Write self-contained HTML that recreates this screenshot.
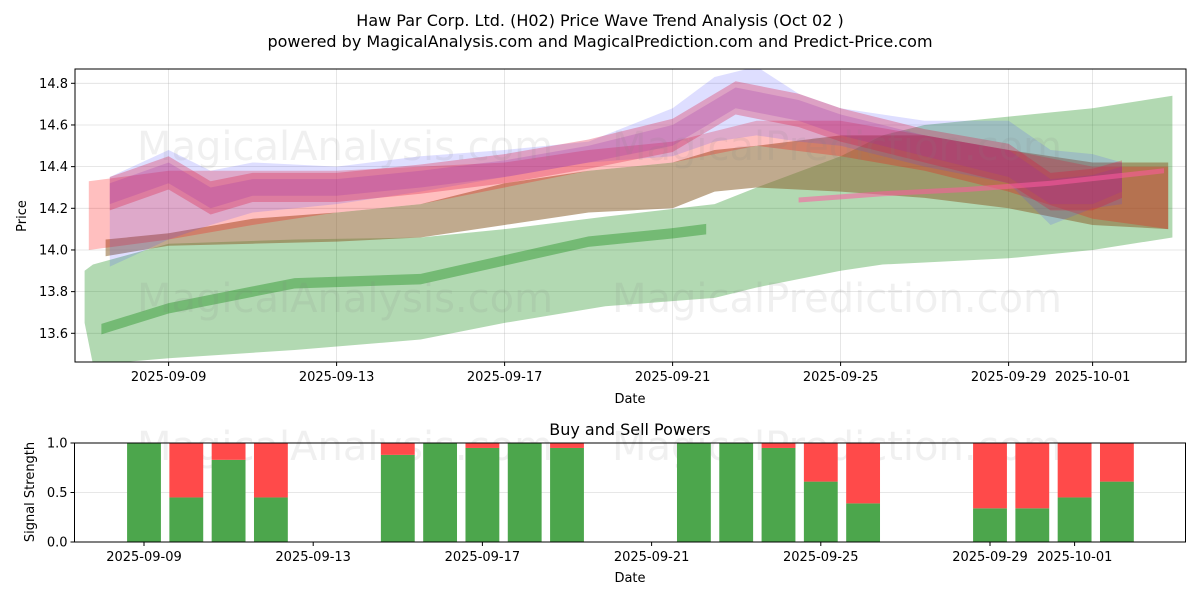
<!DOCTYPE html>
<html><head><meta charset="utf-8">
<style>
html,body{margin:0;padding:0;background:#fff;}
svg{display:block;font-family:"DejaVu Sans","Liberation Sans",sans-serif;}
</style></head>
<body>
<svg id="chart" width="1200" height="600" xmlns="http://www.w3.org/2000/svg">
<rect width="1200" height="600" fill="#fff"/>
<text x="600" y="26" text-anchor="middle" font-size="16">Haw Par Corp. Ltd. (H02) Price Wave Trend Analysis (Oct 02 )</text>
<text x="600" y="47" text-anchor="middle" font-size="16">powered by MagicalAnalysis.com and MagicalPrediction.com and Predict-Price.com</text>
<g id="topPanel"></g>
<g id="botPanel"></g>
</svg>
<script>
// ---- price chart data (days relative to 2025-09-09) ----
const priceTicks = [13.6, 13.8, 14.0, 14.2, 14.4, 14.6, 14.8];
const dateTickLabels = ["2025-09-09","2025-09-13","2025-09-17","2025-09-21","2025-09-25","2025-09-29","2025-10-01"];
const dateTickDays = [0, 4, 8, 12, 16, 20, 22];

const greenDays  = [-2, -1.8, 0, 3, 6, 8, 10.4, 13, 14, 16, 17, 18, 20, 22, 23.9];
const greenUpper = [13.90, 13.93, 14.03, 14.05, 14.06, 14.10, 14.16, 14.22, 14.30, 14.45, 14.55, 14.60, 14.64, 14.68, 14.74];
const greenLower = [13.65, 13.45, 13.48, 13.52, 13.57, 13.65, 13.73, 13.77, 13.82, 13.90, 13.93, 13.94, 13.96, 14.00, 14.06];

const dgDays  = [-1.6, 0, 2, 3, 6, 8, 10, 12, 12.8];
const dgMid   = [13.62, 13.72, 13.80, 13.84, 13.86, 13.95, 14.04, 14.08, 14.10];

const brownDays  = [-1.5, 0, 2, 4, 6, 8, 10, 12, 13, 14, 16, 18, 20, 22, 23.8];
const brownUpper = [14.05, 14.08, 14.15, 14.18, 14.22, 14.32, 14.38, 14.42, 14.48, 14.50, 14.55, 14.55, 14.48, 14.42, 14.42];
const brownLower = [13.97, 14.02, 14.03, 14.04, 14.06, 14.12, 14.18, 14.20, 14.28, 14.30, 14.28, 14.25, 14.20, 14.12, 14.10];

const redDays  = [-1.9, 0, 2, 4, 6, 8, 10, 12, 14, 16, 18, 20, 22, 23.8];
const redUpper = [14.33, 14.38, 14.38, 14.38, 14.40, 14.42, 14.48, 14.52, 14.62, 14.62, 14.55, 14.48, 14.40, 14.40];
const redLower = [14.00, 14.05, 14.12, 14.18, 14.22, 14.30, 14.38, 14.42, 14.50, 14.45, 14.38, 14.28, 14.15, 14.10];

const blueDays  = [-1.4, 0, 1, 2, 4, 6, 8, 10, 12, 13, 14, 15, 16, 18, 20, 21, 22, 22.7];
const blueUpper = [14.35, 14.48, 14.38, 14.42, 14.40, 14.45, 14.48, 14.52, 14.68, 14.83, 14.88, 14.75, 14.68, 14.62, 14.62, 14.48, 14.46, 14.42];
const blueLower = [13.92, 14.05, 14.12, 14.18, 14.22, 14.28, 14.35, 14.42, 14.45, 14.52, 14.55, 14.52, 14.50, 14.40, 14.32, 14.12, 14.20, 14.22];

const coreDays  = [-1.4, 0, 1, 2, 4, 6, 8, 10, 12, 13.5, 15, 16, 18, 20, 21, 22, 22.7];
const coreUpper = [14.32, 14.42, 14.30, 14.34, 14.34, 14.38, 14.43, 14.50, 14.60, 14.78, 14.72, 14.65, 14.55, 14.48, 14.34, 14.36, 14.40];
const coreLower = [14.22, 14.32, 14.20, 14.26, 14.26, 14.30, 14.35, 14.42, 14.50, 14.68, 14.62, 14.55, 14.45, 14.35, 14.22, 14.22, 14.28];

const pinkDays = [15, 17, 19, 21, 23.7];
const pinkMid  = [14.24, 14.27, 14.29, 14.32, 14.38];

// ---- signal data ----
const barDays  = [0,1,2,3, 6,7,8,9,10, 13,14,15,16,17, 20,21,22,23];
const buyPower = [1.0,0.45,0.83,0.45, 0.88,1.0,0.95,1.0,0.95, 1.0,1.0,0.95,0.61,0.39, 0.34,0.34,0.45,0.61];
const sigTicks = [0.0, 0.5, 1.0];
const sigTickLabels = ["0.0","0.5","1.0"];

const NS = "http://www.w3.org/2000/svg";
function mk(tag, attrs, parent){const e=document.createElementNS(NS,tag);for(const k in attrs)e.setAttribute(k,attrs[k]);parent.appendChild(e);return e;}

// top axes
const T = {l:75, r:1186, t:69, b:362};
const tx = d => 168.6 + d*42;
const ty = v => 83.3 + (14.8 - v)*208.33;
const topG = document.getElementById('topPanel');
const clip = mk('clipPath',{id:'clipTop'},topG);
mk('rect',{x:T.l,y:T.t,width:T.r-T.l,height:T.b-T.t},clip);

priceTicks.forEach(v=>{
  const g = mk('line',{x1:T.l,x2:T.r,y1:ty(v),y2:ty(v),stroke:'#b0b0b0','stroke-opacity':0.4,'stroke-width':0.8},topG);
  
  
});
dateTickDays.forEach(d=>{
  const g = mk('line',{x1:tx(d),x2:tx(d),y1:T.t,y2:T.b,stroke:'#b0b0b0','stroke-opacity':0.4,'stroke-width':0.8},topG);
  
  
});

const bands = mk('g',{'clip-path':'url(#clipTop)'},topG);


function band(days, up, lo, fill, name){
  let pts = days.map((d,i)=>tx(d)+','+ty(up[i]));
  for(let i=days.length-1;i>=0;i--) pts.push(tx(days[i])+','+ty(lo[i]));
  const p = mk('polygon',{points:pts.join(' '),fill:fill},bands);
  
  
}
band(greenDays, greenUpper, greenLower, 'rgba(0,128,0,0.3)', 'green-band');
band(dgDays, dgMid.map(v=>v+0.025), dgMid.map(v=>v-0.025), 'rgba(0,128,0,0.35)', 'dark-green-band');
band(brownDays, brownUpper, brownLower, 'rgba(140,100,50,0.55)', 'brown-band');
band(redDays, redUpper, redLower, 'rgba(255,0,0,0.25)', 'red-band');
band(blueDays, blueUpper, blueLower, 'rgba(70,70,255,0.18)', 'blue-band');
band(coreDays, coreUpper.map(v=>v+0.03), coreLower.map(v=>v-0.03), 'rgba(220,20,60,0.3)', 'red-core-band');
band(coreDays, coreUpper, coreLower, 'rgba(150,40,170,0.22)', 'purple-core-band');
band(pinkDays, pinkMid.map(v=>v+0.012), pinkMid.map(v=>v-0.012), 'rgba(255,90,160,0.55)', 'pink-line-band');

// watermarks
[[345,160,'MagicalAnalysis.com'],[837,160,'MagicalPrediction.com'],[345,312,'MagicalAnalysis.com'],[837,312,'MagicalPrediction.com']].forEach(w=>{
  const t = mk('text',{x:w[0],y:w[1],'text-anchor':'middle','font-size':40,fill:'rgba(128,128,128,0.12)'},topG);
  t.textContent = w[2];
  
  
});

const frame = mk('rect',{x:T.l,y:T.t,width:T.r-T.l,height:T.b-T.t,fill:'none',stroke:'#000','stroke-width':1},topG);


priceTicks.forEach(v=>{
  mk('line',{x1:T.l-4,x2:T.l,y1:ty(v),y2:ty(v),stroke:'#000'},topG);
  const t = mk('text',{x:T.l-7,y:ty(v)+4.5,'text-anchor':'end','font-size':13},topG);
  t.textContent = v.toFixed(1);
  
  
});
dateTickDays.forEach((d,i)=>{
  mk('line',{x1:tx(d),x2:tx(d),y1:T.b,y2:T.b+4,stroke:'#000'},topG);
  const t = mk('text',{x:tx(d),y:T.b+19,'text-anchor':'middle','font-size':13},topG);
  t.textContent = dateTickLabels[i];
  
  
});
let lab = mk('text',{x:630,y:403,'text-anchor':'middle','font-size':13},topG);
lab.textContent='Date';


lab = mk('text',{x:26,y:216,'text-anchor':'middle','font-size':13,transform:'rotate(-90 26 216)'},topG);
lab.textContent='Price';



// bottom axes
const B = {l:74.5, r:1185.5, t:443, b:542};
const bx = d => 144 + d*42.3;
const by = v => 542 - v*99;
const botG = document.getElementById('botPanel');
let bt = mk('text',{x:630,y:435,'text-anchor':'middle','font-size':16},botG);
bt.textContent='Buy and Sell Powers';


const gl = mk('line',{x1:B.l,x2:B.r,y1:by(0.5),y2:by(0.5),stroke:'#b0b0b0','stroke-opacity':0.4,'stroke-width':0.8},botG);


[[345,460,'MagicalAnalysis.com'],[837,460,'MagicalPrediction.com']].forEach(w=>{
  const t = mk('text',{x:w[0],y:w[1],'text-anchor':'middle','font-size':40,fill:'rgba(128,128,128,0.12)'},botG);
  t.textContent = w[2];
  
  
});
const bw = 0.8*42.3;
barDays.forEach((d,i)=>{
  const b = buyPower[i];
  const g = mk('rect',{x:bx(d)-bw/2,y:by(b),width:bw,height:by(0)-by(b),fill:'#4ca64c'},botG);
  
  
  const r = mk('rect',{x:bx(d)-bw/2,y:by(1),width:bw,height:by(b)-by(1),fill:'#ff4a4a'},botG);
  
  
});
const bf = mk('rect',{x:B.l,y:B.t,width:B.r-B.l,height:B.b-B.t,fill:'none',stroke:'#000','stroke-width':1},botG);


sigTicks.forEach((v,i)=>{
  mk('line',{x1:B.l-4,x2:B.l,y1:by(v),y2:by(v),stroke:'#000'},botG);
  const t = mk('text',{x:B.l-7,y:by(v)+4.5,'text-anchor':'end','font-size':13},botG);
  t.textContent = sigTickLabels[i];
  
  
});
dateTickDays.forEach((d,i)=>{
  mk('line',{x1:bx(d),x2:bx(d),y1:B.b,y2:B.b+4,stroke:'#000'},botG);
  const t = mk('text',{x:bx(d),y:B.b+19,'text-anchor':'middle','font-size':13},botG);
  t.textContent = dateTickLabels[i];
  
  
});
lab = mk('text',{x:630,y:582,'text-anchor':'middle','font-size':13},botG);
lab.textContent='Date';


lab = mk('text',{x:34,y:492,'text-anchor':'middle','font-size':13,transform:'rotate(-90 34 492)'},botG);
lab.textContent='Signal Strength';


</script>
</body></html>
